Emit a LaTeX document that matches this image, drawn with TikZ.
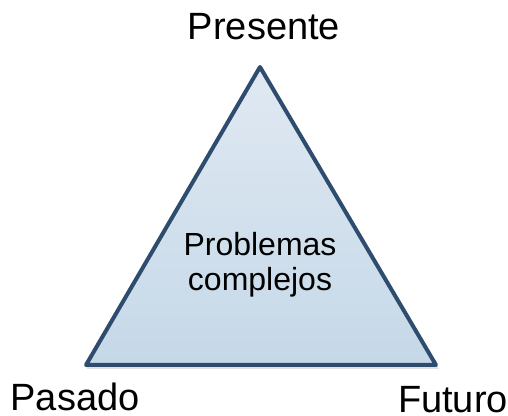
\documentclass[tikz,border=0pt]{standalone}
\usepackage{fontspec}
\setmainfont{Liberation Sans}
\usepackage{tikz}
\usetikzlibrary{calc}
\usetikzlibrary{positioning}

\definecolor{borde}{RGB}{46,76,110}
\definecolor{arriba}{RGB}{224,233,242}
\definecolor{abajo}{RGB}{197,216,232}
\definecolor{sombra}{RGB}{226,226,228}

\tikzset{
  tiempo/.style={inner sep=0pt, anchor=base, font=\fontsize{28.5}{31}\selectfont},
  centro/.style={inner sep=0pt, align=center, font=\fontsize{24}{26.25}\selectfont},
}

\begin{document}
\begin{tikzpicture}[x=0.75pt, y=-0.75pt]

\useasboundingbox (0,0) rectangle (508,416);

\coordinate (pre) at (260,67);
\coordinate (pas) at (86,365);
\coordinate (fut) at (436,365);

% sombra
\fill [sombra] ($(pas)+(1,4)$) -- ($(fut)+(3,4)$) -- ($(fut)+(0,0)$) -- ($(pas)+(0,0)$) -- cycle;

\draw [line width=3pt, line join=round, draw=borde, top color=arriba, bottom color=abajo] (pre) -- (fut) -- (pas) -- cycle;

\node [tiempo] at (264,40) (presente) {Presente};
\node [tiempo] at (75,411) (pasado) {Pasado};
\node [tiempo] at (453,413) (futuro) {Futuro};

\node [centro] at (260,265) (problemas) {Problemas\\complejos};

\end{tikzpicture}
\end{document}
